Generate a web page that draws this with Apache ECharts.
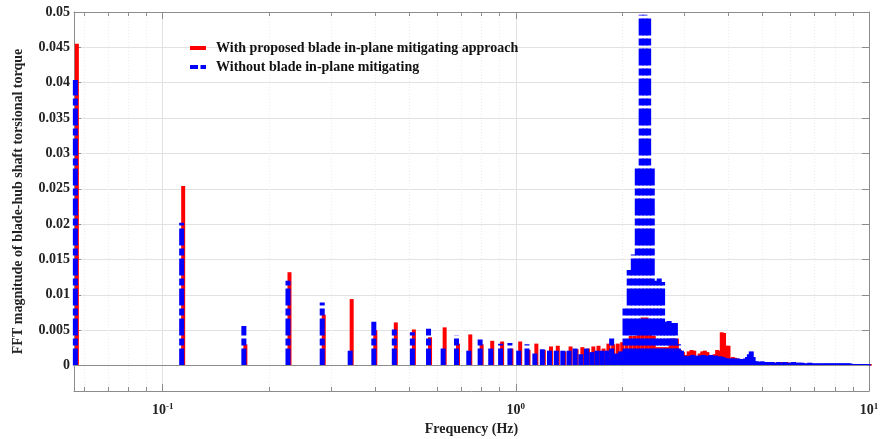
<!DOCTYPE html>
<html><head><meta charset="utf-8">
<script src="https://cdn.jsdelivr.net/npm/echarts@6/dist/echarts.min.js"></script>
<style>html,body{margin:0;padding:0;background:#fff}#c{width:883px;height:439px}</style>
</head><body><div id="c"></div>
<script>
// Frequency bins (Hz)
const freqHz = [
0.0566,0.1132,0.1698,0.2264,0.283,0.3396,0.3962,0.4528,0.5094,0.566,
0.6226,0.6792,0.7358,0.7924,0.849,0.9056,0.9622,1.0188,1.0754,1.132,
1.1886,1.2452,1.3018,1.3584,1.415,1.4716,1.5282,1.5848,1.6414,1.698,
1.7546,1.8112,1.8678,1.9244,1.981,2.0376,2.0942,2.1508,2.2074,2.264,
2.3206,2.3772,2.4338,2.4904,2.547,2.6036,2.6602,2.7168,2.7734,2.83,
2.8866,2.9432,2.9998,3.0564,3.113,3.1696,3.2262,3.2828,3.3394,3.396,
3.4526,3.5092,3.5658,3.6224,3.679,3.7356,3.7922,3.8488,3.9054,3.962,
4.0186,4.0752,4.1318,4.1884,4.245,4.3016,4.3582,4.4148,4.4714,4.528,
4.5846,4.6412,4.6978,4.7544,4.811,4.8676,4.9242,4.9808,5.0374,5.094,
5.2072,5.3204,5.4336,5.5468,5.66,5.7732,5.8864,5.9996,6.1128,6.226,
6.3392,6.4524,6.5656,6.6788,6.792,6.9052,7.0184,7.1316,7.2448,7.358,
7.4712,7.5844,7.6976,7.8108,7.924,8.0372,8.1504,8.2636,8.3768,8.49,
8.6032,8.7164,8.8296,8.9428,9.056,9.1692,9.2824,9.3956,9.5088,9.622,
9.7352,9.8484,9.9616
];
// FFT magnitude, with proposed mitigating approach (red)
const withMitigation = [
0.0455,0.0254,0.0030,0.0132,0.0072,0.0094,0.0050,0.0061,0.0051,0.0040,
0.0054,0.0031,0.0044,0.0030,0.0035,0.0034,0.0024,0.0034,0.0022,0.0031,
0.0022,0.0027,0.0028,0.0020,0.0027,0.0023,0.0026,0.0024,0.0027,0.0028,
0.0024,0.0031,0.0030,0.0031,0.0033,0.0033,0.0042,0.0042,0.0045,0.0068,
0.0068,0.0045,0.0042,0.0026,0.0026,0.0026,0.0026,0.0038,0.0038,0.0038,
0.0022,0.0019,0.0015,0.0020,0.0022,0.0021,0.0012,0.0017,0.0020,0.0021,
0.0019,0.0013,0.0009,0.0016,0.0022,0.0021,0.0047,0.0046,0.0028,0.0028,
0.0010,0.0012,0.0011,0.0010,0.0009,0.0008,0.0007,0.0006,0.0006,0.0005,
0.0005,0.0004,0.0004,0.0004,0.0004,0.0004,0.0003,0.0003,0.0003,0.0003,
0.0003,0.0003,0.0004,0.0004,0.0005,0.0005,0.0004,0.0003,0.0003,0.0003,
0.0003,0.0003,0.0002,0.0002,0.0003,0.0002,0.0002,0.0002,0.0002,0.0002,
0.0002,0.0002,0.0002,0.0002,0.0002,0.0002,0.0002,0.0002,0.0002,0.0002,
0.0002,0.0002,0.0002,0.0002,0.0002,0.0002,0.0002,0.0002,0.0002,0.0002,
0.0002,0.0002,0.0002
];
// FFT magnitude, without mitigating (blue)
const withoutMitigation = [
0.0404,0.0202,0.0056,0.0120,0.0089,0.0021,0.0062,0.0051,0.0047,0.0052,
0.0027,0.0043,0.0021,0.0037,0.0028,0.0031,0.0032,0.0021,0.0030,0.0017,
0.0023,0.0021,0.0021,0.0021,0.0021,0.0028,0.0016,0.0024,0.0019,0.0021,
0.0021,0.0021,0.0040,0.0017,0.0020,0.0084,0.0135,0.0157,0.0283,0.0496,
0.0496,0.0495,0.0283,0.0120,0.0125,0.0118,0.0062,0.0063,0.0060,0.0060,
0.0030,0.0021,0.0014,0.0013,0.0014,0.0015,0.0013,0.0014,0.0014,0.0015,
0.0013,0.0014,0.0015,0.0013,0.0014,0.0012,0.0013,0.0012,0.0011,0.0010,
0.0009,0.0010,0.0010,0.0009,0.0010,0.0009,0.0009,0.0009,0.0010,0.0012,
0.0016,0.0020,0.0012,0.0006,0.0006,0.0005,0.0005,0.0006,0.0005,0.0005,
0.0005,0.0005,0.0004,0.0005,0.0004,0.0005,0.0004,0.0004,0.0005,0.0004,
0.0004,0.0004,0.0003,0.0003,0.0004,0.0003,0.0003,0.0003,0.0003,0.0003,
0.0003,0.0003,0.0003,0.0003,0.0003,0.0003,0.0003,0.0003,0.0003,0.0003,
0.0003,0.0003,0.0003,0.0002,0.0002,0.0002,0.0002,0.0002,0.0002,0.0002,
0.0002,0.0002,0.0002
];
const yTickValues = [0,0.005,0.01,0.015,0.02,0.025,0.03,0.035,0.04,0.045,0.05];
const yTickLabels = ['0','0.005','0.01','0.015','0.02','0.025','0.03','0.035','0.04','0.045','0.05'];
const xMajorTicks = [0.1,1,10];
const xMajorExp = ['-1','0','1'];
const xMinorTicks = [0.06,0.07,0.08,0.09,0.2,0.3,0.4,0.5,0.6,0.7,0.8,0.9,2,3,4,5,6,7,8,9];
const seriesNames = ['With proposed blade in-plane mitigating approach','Without blade in-plane mitigating'];

const FONT = 'Liberation Serif';
const AX = '#8c8c8c';
const X_MIN = 0.0561, X_MAX = 10, Y_MIN = -0.0036, Y_MAX = 0.05;

const chart = echarts.init(document.getElementById('c'));

function stem(color, width, dash, dx) {
  return function (params, api) {
    const f = api.value(0), v = api.value(1);
    const p0 = api.coord([f, 0]);
    const p1 = api.coord([f, v]);
    return {
      type: 'line',
      shape: {x1: p0[0] + dx, y1: p0[1], x2: p1[0] + dx, y2: p1[1]},
      style: {stroke: color, lineWidth: width, lineDash: dash, lineCap: 'butt'}
    };
  };
}

function xAxisDef(position, ticks, len, showLabel, showLine, split) {
  return {
    type: 'log', logBase: 10, min: X_MIN, max: X_MAX, position: position,
    axisLine: {show: showLine, onZero: false, lineStyle: {color: AX, width: 1}},
    axisTick: {show: true, inside: true, length: len, customValues: ticks, lineStyle: {color: AX}},
    axisLabel: showLabel ? {
      show: true, customValues: xMajorTicks, margin: 11,
      formatter: function (v) {
        let i = 0;
        for (let j = 0; j < xMajorTicks.length; j++) if (Math.abs(Math.log10(xMajorTicks[j]) - Math.log10(v)) < 1e-6) i = j;
        return '{b|10}{s|' + xMajorExp[i] + '}';
      },
      rich: {
        b: {fontFamily: FONT, fontWeight: 'bold', fontSize: 14, color: '#222'},
        s: {fontFamily: FONT, fontWeight: 'bold', fontSize: 9, color: '#222', padding: [0, 0, 8, 0]}
      }
    } : {show: false},
    splitLine: split,
    name: showLabel ? 'Frequency (Hz)' : '',
    nameLocation: 'middle', nameGap: 24,
    nameTextStyle: {fontFamily: FONT, fontWeight: 'bold', fontSize: 14, color: '#222'}
  };
}

const option = {
  backgroundColor: '#fff',
  animation: false,
  grid: {left: 74, right: 14, top: 12, bottom: 48, containLabel: false, outerBoundsMode: 'none'},
  legend: {
    orient: 'vertical', left: 185, top: 36, itemWidth: 16, itemHeight: 4, itemGap: 5,
    textStyle: {fontFamily: FONT, fontWeight: 'bold', fontSize: 14, color: '#111', padding: [0, 0, 0, 5]},
    data: [
      {name: seriesNames[0], icon: 'rect', itemStyle: {color: '#ff0000'}},
      {name: seriesNames[1], icon: 'path://M0,0H8V4H0Z M10.5,0H16V4H10.5Z', itemStyle: {color: '#0000ff'}}
    ]
  },
  xAxis: [
    xAxisDef('bottom', xMajorTicks, 7, true, true, {show: true, lineStyle: {color: '#e2e2e2', width: 1}}),
    xAxisDef('bottom', xMinorTicks, 4, false, false, {show: true, lineStyle: {color: '#ececec', width: 1, type: [1, 2]}}),
    xAxisDef('top', xMajorTicks, 7, false, true, {show: false}),
    xAxisDef('top', xMinorTicks, 4, false, false, {show: false})
  ],
  yAxis: [
    {
      type: 'value', min: Y_MIN, max: Y_MAX, position: 'left',
      axisLine: {show: true, onZero: false, lineStyle: {color: AX, width: 1}},
      axisTick: {show: true, inside: true, length: 7, customValues: yTickValues, lineStyle: {color: AX}},
      axisLabel: {
        show: true, customValues: yTickValues, margin: 4,
        formatter: function (v) {
          let i = 0;
          for (let j = 0; j < yTickValues.length; j++) if (Math.abs(yTickValues[j] - v) < 1e-9) i = j;
          return yTickLabels[i];
        },
        fontFamily: FONT, fontWeight: 'bold', fontSize: 14, color: '#222'
      },
      splitLine: {show: true, lineStyle: {color: '#e2e2e2', width: 1}},
      name: 'FFT magnitude of blade-hub shaft torsional torque',
      nameLocation: 'middle', nameGap: 49, nameRotate: 90,
      nameTextStyle: {fontFamily: FONT, fontWeight: 'bold', fontSize: 14, color: '#222'}
    },
    {
      type: 'value', min: Y_MIN, max: Y_MAX, position: 'right',
      axisLine: {show: true, onZero: false, lineStyle: {color: AX, width: 1}},
      axisTick: {show: true, inside: true, length: 7, customValues: yTickValues, lineStyle: {color: AX}},
      axisLabel: {show: false},
      splitLine: {show: false}
    }
  ],
  series: [
    {
      name: seriesNames[0], type: 'custom', xAxisIndex: 0, yAxisIndex: 0,
      itemStyle: {color: '#ff0000'},
      encode: {x: 0, y: 1},
      renderItem: stem('#ff0000', 4, null, 1.5),
      data: freqHz.map((f, i) => [f, withMitigation[i]]),
      markLine: {
        silent: true, symbol: 'none', label: {show: false},
        lineStyle: {color: '#8c8c8c', width: 1, type: 'solid'},
        data: [{yAxis: 0}]
      },
      z: 2
    },
    {
      name: seriesNames[1], type: 'custom', xAxisIndex: 0, yAxisIndex: 0,
      itemStyle: {color: '#0000ff'},
      encode: {x: 0, y: 1},
      renderItem: stem('#0000ff', 5, [17, 3, 7, 3], 0),
      data: freqHz.map((f, i) => [f, withoutMitigation[i]]),
      z: 3
    }
  ]
};
chart.setOption(option);
</script>
</body></html>
